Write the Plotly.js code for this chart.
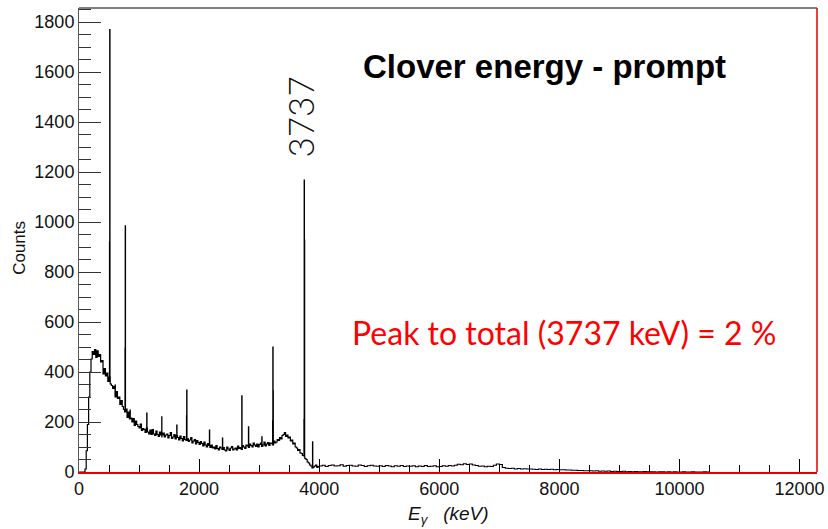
<!DOCTYPE html>
<html>
<head>
<meta charset="utf-8">
<script src="https://cdn.plot.ly/plotly-3.0.1.min.js"></script>
<style>
html,body{margin:0;padding:0;background:#fff;}
#chart{width:828px;height:529px;}
</style>
</head>
<body>
<div id="chart"></div>
<script>
// Continuum below 4000 keV, 20 keV bins starting at 0 keV
const lowStart = 0, lowStep = 20;
const lowCounts = [
  0,0,0,0,0,12,85,190,300,400,
  452,482,470,490,458,485,462,470,440,446,
  392,414,384,396,362,380,352,346,334,342,
  300,322,294,300,270,286,262,250,240,252,
  218,240,212,216,200,214,186,204,190,182,
  176,192,166,174,170,158,176,160,152,168,
  150,170,152,146,164,150,142,160,148,140,
  156,140,148,152,136,146,158,134,140,150,
  132,146,138,128,144,134,124,142,130,126,
  134,122,128,138,116,124,130,112,126,118,
  110,122,114,104,120,108,100,114,106,98,
  108,96,100,92,106,94,88,100,96,90,
  98,88,84,100,92,86,96,102,88,92,
  96,88,104,94,98,90,106,100,94,108,
  104,98,112,106,100,116,108,102,112,100,
  110,116,102,108,120,104,112,118,106,116,
  114,108,124,116,120,130,126,138,132,146,
  150,158,142,148,136,140,124,128,112,116,
  100,96,86,90,76,74,66,64,54,50,
  40,36,28,24,16,20,24,28,18,22
];
// Continuum above 4000 keV, 50 keV bins
const highStart = 4000, highStep = 50;
const highCounts = [
  24,27,22,26,28,24,25,29,23,26,
  27,24,23,28,26,22,25,27,24,23,
  25,22,26,24,21,25,23,26,22,24,
  23,25,21,24,22,26,22,23,25,21,
  22,25,23,26,24,27,31,29,33,30,
  32,28,26,23,24,21,23,22,27,32,
  30,18,15,14,15,12,14,12,13,12,
  12,11,10,12,10,11,10,11,9,10,
  9,9,8,8,7,7,6,6,5,5,
  5,4,5,3,4,3,4,2,3,2,
  2,3,1,2,1,2,1,1,2,1,
  1,1,0,1,1,0,1,0,1,0,
  0,1,0,0,1,0,0,0,1,0,
  0
];
// Gamma lines (narrow bins, keV) and their counts
const peakWidth = 4;
const peakEnergy = [508, 512, 601, 766, 770, 850, 1128, 1378, 1628, 1790, 1794, 2172, 2389, 2711, 2822, 3044, 3224, 3228, 3232, 3746, 3750, 3754, 3889];
const peakCounts = [920, 1770, 348, 495, 985, 248, 236, 221, 188, 225, 328, 168, 136, 305, 181, 141, 205, 500, 325, 210, 1168, 928, 121];

const xTickVals = [0, 2000, 4000, 6000, 8000, 10000, 12000];
const xTickText = ['0', '2000', '4000', '6000', '8000', '10000', '12000'];
const yTickVals = [0, 200, 400, 600, 800, 1000, 1200, 1400, 1600, 1800];

function bgAt(e) {
  if (e < highStart) return lowCounts[Math.floor((e - lowStart) / lowStep)];
  const i = Math.floor((e - highStart) / highStep);
  return i < highCounts.length ? highCounts[i] : 0;
}

const pts = [];
lowCounts.forEach((c, i) => pts.push({x: lowStart + i * lowStep, y: c, o: 0}));
highCounts.forEach((c, i) => pts.push({x: highStart + i * highStep, y: c, o: 0}));
const starts = new Set(peakEnergy);
peakEnergy.forEach((e, i) => {
  pts.push({x: e, y: peakCounts[i], o: 1});
  if (!starts.has(e + peakWidth)) pts.push({x: e + peakWidth, y: bgAt(e), o: 1});
});
pts.sort((a, b) => a.x - b.x || a.o - b.o);

const trace = {
  x: pts.map(p => p.x),
  y: pts.map(p => p.y),
  type: 'scatter',
  mode: 'lines',
  line: {shape: 'hv', color: '#000', width: 1.2},
  hoverinfo: 'skip'
};

const tickFont = {family: 'Liberation Sans, Arial, sans-serif', size: 18, color: '#111'};

const layout = {
  width: 828, height: 529,
  margin: {l: 79, r: 11, t: 8, b: 57},
  paper_bgcolor: '#fff', plot_bgcolor: '#fff',
  showlegend: false,
  xaxis: {
    range: [0, 12290],
    tickvals: xTickVals, ticktext: xTickText,
    ticks: 'inside', ticklen: 13, tickwidth: 1, tickcolor: '#000',
    minor: {dtick: 500, tick0: 0, ticks: 'inside', ticklen: 7, tickcolor: '#000', tickwidth: 1, showgrid: false},
    showline: true, linecolor: '#e00000', linewidth: 1.5,
    showgrid: false, zeroline: false,
    tickfont: tickFont
  },
  yaxis: {
    range: [0, 1856],
    tickvals: yTickVals,
    ticks: 'inside', ticklen: 22, tickwidth: 1, tickcolor: '#333',
    minor: {dtick: 50, tick0: 0, ticks: 'inside', ticklen: 12, tickcolor: '#333', tickwidth: 1, showgrid: false},
    showline: true, linecolor: '#555', linewidth: 1,
    showgrid: false, zeroline: false,
    tickfont: tickFont
  },
  shapes: [
    {type: 'line', xref: 'paper', yref: 'paper', x0: 0, x1: 1, y0: 1, y1: 1, line: {color: '#000', width: 1}},
    {type: 'line', xref: 'paper', yref: 'paper', x0: 1, x1: 1, y0: 0, y1: 1, line: {color: '#e00000', width: 1.5}}
  ],
  annotations: [
    {text: 'Clover energy - prompt', xref: 'paper', yref: 'paper', x: 0.631, y: 0.873,
     xanchor: 'center', yanchor: 'middle', showarrow: false,
     font: {family: 'Liberation Sans, Arial, sans-serif', size: 33, color: '#000', weight: 'bold'}},
    {text: 'Peak to total (3737 keV) = 2 %', xref: 'paper', yref: 'paper', x: 0.657, y: 0.30,
     xanchor: 'center', yanchor: 'middle', showarrow: false,
     font: {family: 'Lato, sans-serif', size: 32, color: '#ff0000'}},
    {text: '3737', xref: 'x', yref: 'y', x: 3680, y: 1422, textangle: -90,
     xanchor: 'center', yanchor: 'middle', showarrow: false,
     font: {family: 'Lato, sans-serif', size: 35, color: '#111', weight: 300}},
    {text: 'Counts', xref: 'paper', yref: 'paper', x: -0.08, y: 0.483, textangle: -90,
     xanchor: 'center', yanchor: 'middle', showarrow: false,
     font: {family: 'Liberation Sans, Arial, sans-serif', size: 17, color: '#111'}},
    {text: '<i>E</i><sub><i>γ</i></sub>\u00a0\u00a0\u00a0<i>(keV)</i>', xref: 'paper', yref: 'paper', x: 0.5, y: -0.093,
     xanchor: 'center', yanchor: 'middle', showarrow: false,
     font: {family: 'Liberation Sans, Arial, sans-serif', size: 19, color: '#111'}}
  ]
};

Plotly.newPlot('chart', [trace], layout, {staticPlot: true, displayModeBar: false});
</script>
</body>
</html>
